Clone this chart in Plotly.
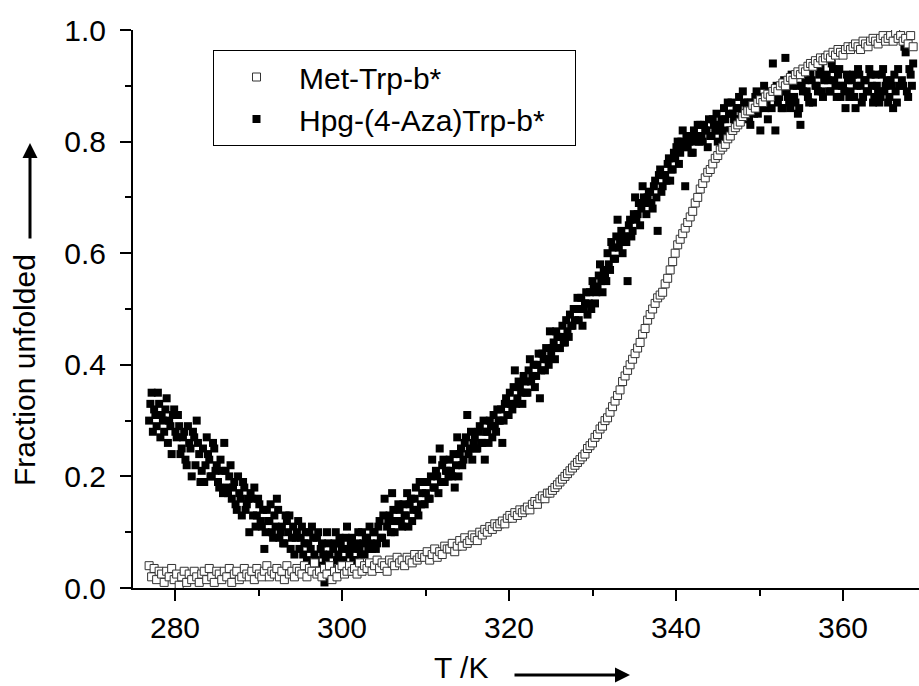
import numpy as np
import plotly.graph_objects as go

T_START_A = 276.9
T_START_B = 277.05
T_STEP = 0.3

# Hpg-(4-Aza)Trp-b*  (filled squares), scan A
hpg_frac_a = [
    0.30, 0.35, 0.32, 0.29, 0.33, 0.31, 0.28, 0.34, 0.30, 0.24,
    0.32, 0.27, 0.29, 0.25, 0.28, 0.22, 0.26, 0.20, 0.27, 0.30,
    0.24, 0.21, 0.19, 0.27, 0.23, 0.20, 0.25, 0.22, 0.18, 0.21,
    0.26, 0.18, 0.20, 0.16, 0.19, 0.14, 0.17, 0.13, 0.18, 0.15,
    0.10, 0.16, 0.18, 0.13, 0.15, 0.11, 0.07, 0.14, 0.12, 0.10,
    0.13, 0.16, 0.09, 0.11, 0.08, 0.12, 0.13, 0.09, 0.06, 0.10,
    0.07, 0.11, 0.08, 0.05, 0.10, 0.11, 0.06, 0.09, 0.04, 0.08,
    0.01, 0.10, 0.06, 0.03, 0.08, 0.05, 0.09, 0.07, 0.04, 0.11,
    0.06, 0.09, 0.05, 0.08, 0.07, 0.10, 0.06, 0.09, 0.11, 0.07,
    0.10, 0.08, 0.12, 0.09, 0.16, 0.11, 0.13, 0.17, 0.10, 0.12,
    0.14, 0.11, 0.13, 0.17, 0.15, 0.12, 0.16, 0.14, 0.19, 0.17,
    0.15, 0.19, 0.16, 0.23, 0.18, 0.20, 0.25, 0.22, 0.19, 0.21,
    0.23, 0.20, 0.18, 0.27, 0.24, 0.22, 0.26, 0.31, 0.25, 0.23,
    0.27, 0.25, 0.29, 0.26, 0.23, 0.28, 0.30, 0.27, 0.29, 0.32,
    0.30, 0.26, 0.33, 0.31, 0.35, 0.32, 0.39, 0.34, 0.36, 0.33,
    0.37, 0.35, 0.41, 0.38, 0.36, 0.40, 0.34, 0.42, 0.39, 0.41,
    0.46, 0.43, 0.41, 0.45, 0.43, 0.47, 0.44, 0.46, 0.49, 0.47,
    0.48, 0.52, 0.50, 0.47, 0.51, 0.49, 0.53, 0.55, 0.51, 0.54,
    0.58, 0.53, 0.56, 0.60, 0.57, 0.61, 0.59, 0.66, 0.62, 0.60,
    0.63, 0.55, 0.66, 0.64, 0.70, 0.67, 0.65, 0.72, 0.69, 0.70,
    0.71, 0.68, 0.73, 0.64, 0.75, 0.72, 0.74, 0.76, 0.73, 0.75,
    0.77, 0.80, 0.78, 0.82, 0.72, 0.79, 0.81, 0.78, 0.80, 0.83,
    0.83, 0.80, 0.82, 0.79, 0.81, 0.84, 0.82, 0.80, 0.83, 0.81,
    0.84, 0.87, 0.82, 0.85, 0.83, 0.86, 0.84, 0.89, 0.85, 0.87,
    0.83, 0.86, 0.88, 0.85, 0.82, 0.87, 0.86, 0.84, 0.88, 0.94,
    0.82, 0.87, 0.89, 0.86, 0.95, 0.88, 0.86, 0.90, 0.87, 0.85,
    0.83, 0.89, 0.91, 0.88, 0.92, 0.87, 0.90, 0.89, 0.93, 0.88,
    0.95, 0.91, 0.89, 0.93, 0.90, 0.92, 0.88, 0.90, 0.86, 0.91,
    0.89, 0.92, 0.86, 0.93, 0.90, 0.88, 0.91, 0.89, 0.92, 0.87,
    0.92, 0.89, 0.88, 0.93, 0.90, 0.87, 0.91, 0.86, 0.89, 0.93,
    0.99, 0.90, 0.96, 0.88, 0.92, 0.94,
]

# Hpg-(4-Aza)Trp-b*  (filled squares), scan B
hpg_frac_b = [
    0.33, 0.28, 0.31, 0.35, 0.27, 0.30, 0.32, 0.26, 0.29, 0.31,
    0.28, 0.31, 0.24, 0.27, 0.23, 0.29, 0.25, 0.28, 0.22, 0.26,
    0.19, 0.25, 0.22, 0.24, 0.20, 0.26, 0.21, 0.19, 0.23, 0.17,
    0.21, 0.17, 0.22, 0.18, 0.15, 0.20, 0.16, 0.19, 0.14, 0.16,
    0.17, 0.13, 0.11, 0.16, 0.12, 0.14, 0.10, 0.12, 0.15, 0.09,
    0.11, 0.14, 0.10, 0.08, 0.13, 0.10, 0.07, 0.11, 0.09, 0.12,
    0.09, 0.06, 0.10, 0.08, 0.07, 0.09, 0.05, 0.10, 0.07, 0.06,
    0.05, 0.08, 0.04, 0.07, 0.10, 0.06, 0.08, 0.05, 0.09, 0.07,
    0.08, 0.05, 0.07, 0.10, 0.06, 0.08, 0.09, 0.07, 0.08, 0.10,
    0.07, 0.11, 0.09, 0.13, 0.08, 0.12, 0.10, 0.14, 0.12, 0.15,
    0.12, 0.15, 0.13, 0.11, 0.16, 0.14, 0.18, 0.13, 0.15, 0.19,
    0.17, 0.16, 0.20, 0.18, 0.21, 0.17, 0.19, 0.23, 0.21, 0.20,
    0.21, 0.24, 0.22, 0.20, 0.25, 0.23, 0.27, 0.24, 0.28, 0.26,
    0.25, 0.28, 0.26, 0.30, 0.28, 0.26, 0.29, 0.31, 0.28, 0.30,
    0.32, 0.30, 0.34, 0.31, 0.33, 0.36, 0.33, 0.37, 0.35, 0.38,
    0.35, 0.39, 0.37, 0.40, 0.38, 0.42, 0.39, 0.41, 0.43, 0.40,
    0.42, 0.44, 0.46, 0.43, 0.45, 0.44, 0.48, 0.45, 0.47, 0.50,
    0.50, 0.48, 0.52, 0.50, 0.53, 0.51, 0.50, 0.54, 0.53, 0.56,
    0.55, 0.57, 0.55, 0.58, 0.62, 0.59, 0.63, 0.61, 0.64, 0.63,
    0.62, 0.65, 0.63, 0.67, 0.66, 0.69, 0.68, 0.70, 0.67, 0.71,
    0.69, 0.72, 0.70, 0.74, 0.71, 0.74, 0.73, 0.77, 0.75, 0.78,
    0.79, 0.76, 0.80, 0.79, 0.81, 0.80, 0.78, 0.82, 0.81, 0.80,
    0.81, 0.83, 0.82, 0.84, 0.81, 0.83, 0.85, 0.82, 0.84, 0.86,
    0.82, 0.85, 0.87, 0.84, 0.86, 0.88, 0.85, 0.87, 0.86, 0.84,
    0.87, 0.85, 0.89, 0.86, 0.88, 0.90, 0.87, 0.89, 0.86, 0.88,
    0.90, 0.88, 0.86, 0.91, 0.89, 0.87, 0.92, 0.88, 0.90, 0.86,
    0.90, 0.93, 0.89, 0.87, 0.91, 0.94, 0.90, 0.92, 0.89, 0.91,
    0.92, 0.89, 0.94, 0.91, 0.88, 0.93, 0.90, 0.89, 0.92, 0.88,
    0.91, 0.88, 0.90, 0.92, 0.87, 0.91, 0.89, 0.93, 0.90, 0.88,
    0.90, 0.87, 0.92, 0.89, 0.91, 0.88, 0.90, 0.92, 0.87, 0.90,
    0.91, 0.97, 0.89, 0.93, 0.90,
]

# Met-Trp-b*  (open squares), scan A grid
met_frac = [
    0.040, 0.020, 0.035, 0.015, 0.030, 0.025, 0.010, 0.030, 0.020, 0.035,
    0.015, 0.025, 0.005, 0.020, 0.030, 0.010, 0.025, 0.015, 0.030, 0.020,
    0.010, 0.025, 0.030, 0.015, 0.035, 0.020, 0.010, 0.030, 0.025, 0.015,
    0.030, 0.020, 0.035, 0.010, 0.025, 0.030, 0.015, 0.020, 0.035, 0.025,
    0.020, 0.030, 0.015, 0.035, 0.025, 0.020, 0.030, 0.040, 0.020, 0.030,
    0.025, 0.035, 0.020, 0.030, 0.015, 0.040, 0.025, 0.030, 0.020, 0.035,
    0.030, 0.025, 0.040, 0.020, 0.035, 0.030, 0.045, 0.025, 0.030, 0.020,
    0.035, 0.025, 0.040, 0.015, 0.030, 0.020, 0.035, 0.040, 0.025, 0.030,
    0.040, 0.030, 0.035, 0.025, 0.045, 0.030, 0.040, 0.035, 0.045, 0.030,
    0.040, 0.050, 0.035, 0.045, 0.040, 0.030, 0.050, 0.045, 0.040, 0.055,
    0.045, 0.050, 0.040, 0.055, 0.050, 0.045, 0.060, 0.050, 0.055, 0.060,
    0.055, 0.065, 0.050, 0.060, 0.070, 0.055, 0.065, 0.060, 0.075, 0.070,
    0.070, 0.080, 0.065, 0.075, 0.085, 0.075, 0.090, 0.080, 0.085, 0.095,
    0.090, 0.085, 0.100, 0.095, 0.105, 0.100, 0.110, 0.105, 0.115, 0.110,
    0.115, 0.120, 0.115, 0.125, 0.130, 0.125, 0.135, 0.130, 0.140, 0.135,
    0.140, 0.145, 0.140, 0.150, 0.155, 0.150, 0.160, 0.165, 0.160, 0.170,
    0.170, 0.175, 0.180, 0.185, 0.190, 0.195, 0.200, 0.205, 0.210, 0.215,
    0.220, 0.225, 0.230, 0.235, 0.240, 0.250, 0.255, 0.260, 0.270, 0.275,
    0.285, 0.290, 0.300, 0.305, 0.315, 0.325, 0.335, 0.345, 0.355, 0.370,
    0.380, 0.390, 0.400, 0.410, 0.420, 0.430, 0.440, 0.455, 0.465, 0.480,
    0.490, 0.500, 0.510, 0.520, 0.525, 0.530, 0.545, 0.555, 0.570, 0.585,
    0.600, 0.615, 0.625, 0.635, 0.645, 0.655, 0.665, 0.675, 0.690, 0.700,
    0.715, 0.725, 0.735, 0.745, 0.750, 0.760, 0.770, 0.775, 0.785, 0.790,
    0.795, 0.805, 0.810, 0.820, 0.825, 0.830, 0.835, 0.845, 0.850, 0.855,
    0.855, 0.865, 0.860, 0.870, 0.875, 0.870, 0.880, 0.885, 0.880, 0.890,
    0.895, 0.890, 0.900, 0.905, 0.900, 0.910, 0.915, 0.910, 0.920, 0.925,
    0.920, 0.930, 0.925, 0.935, 0.940, 0.935, 0.945, 0.940, 0.950, 0.945,
    0.950, 0.955, 0.950, 0.960, 0.955, 0.965, 0.960, 0.955, 0.965, 0.970,
    0.965, 0.970, 0.975, 0.970, 0.965, 0.980, 0.975, 0.970, 0.980, 0.985,
    0.980, 0.975, 0.985, 0.990, 0.980, 0.985, 0.990, 0.980, 0.995, 0.985,
    0.990, 0.980, 0.985, 0.975, 0.990, 0.970,
]

x_ticks = [280, 300, 320, 340, 360]
y_ticks = [0.0, 0.2, 0.4, 0.6, 0.8, 1.0]
y_tick_text = ["0.0", "0.2", "0.4", "0.6", "0.8", "1.0"]

temps_a = np.round(T_START_A + T_STEP * np.arange(len(hpg_frac_a)), 2)
temps_b = np.round(T_START_B + T_STEP * np.arange(len(hpg_frac_b)), 2)
temps_met = np.round(T_START_A + T_STEP * np.arange(len(met_frac)), 2)

hpg_x = np.concatenate([temps_a, temps_b])
hpg_y = np.concatenate([hpg_frac_a, hpg_frac_b])

FONT = "Liberation Sans, Arial, sans-serif"
FS = 30

fig = go.Figure()
fig.add_trace(go.Scatter(
    x=hpg_x, y=hpg_y, mode="markers", name="Hpg-(4-Aza)Trp-b*\u00a0\u00a0\u00a0",
    marker=dict(symbol="square", size=8, color="black",
                line=dict(color="black", width=0)),
))
fig.add_trace(go.Scatter(
    x=temps_met, y=met_frac, mode="markers", name="Met-Trp-b*",
    marker=dict(symbol="square", size=8, color="white",
                line=dict(color="#333333", width=1)),
))

W, H = 919, 686
ML, MR, MT, MB = 133, 0, 30, 98
pw = W - ML - MR
ph = H - MT - MB

def px2paper(px, py):
    return (px - ML) / pw, (H - MB - py) / ph

axis_common = dict(
    showline=True, linecolor="black", linewidth=2, mirror=False,
    ticks="outside", ticklen=11, tickwidth=1.5, tickcolor="black",
    showgrid=False, zeroline=False,
    tickfont=dict(family=FONT, size=FS, color="black"),
)

fig.update_xaxes(range=[274.97, 369.1], tickvals=x_ticks, ticklabelstandoff=1,
                 **axis_common,
                 minor=dict(ticks="outside", ticklen=6, tickwidth=1.5,
                            tickcolor="black", dtick=10, tick0=270, showgrid=False))
fig.update_yaxes(range=[0, 1.0], tickvals=y_ticks, ticktext=y_tick_text,
                 ticklabelstandoff=8, **axis_common,
                 minor=dict(ticks="outside", ticklen=6, tickwidth=1.5,
                            tickcolor="black", dtick=0.1, tick0=0, showgrid=False))

lx, ly = px2paper(213, 50)
fig.update_layout(
    width=W, height=H,
    margin=dict(l=ML, r=MR, t=MT, b=MB, pad=0),
    paper_bgcolor="white", plot_bgcolor="white",
    font=dict(family=FONT, size=FS, color="black"),
    showlegend=True,
    legend=dict(x=lx, y=ly, xanchor="left", yanchor="top",
                bgcolor="white", bordercolor="black", borderwidth=1,
                font=dict(family=FONT, size=FS, color="black"),
                traceorder="reversed", itemwidth=75),
)

# Axis titles with arrows
tx, ty = px2paper(461, 667)
fig.add_annotation(x=tx, y=ty, xref="paper", yref="paper", text="T /K",
                   showarrow=False, font=dict(family=FONT, size=FS, color="black"),
                   xanchor="center", yanchor="middle")
hx, hy = px2paper(630, 675)
fig.add_annotation(x=hx, y=hy, xref="paper", yref="paper", text="",
                   showarrow=True, ax=-117, ay=0, arrowhead=2, arrowsize=1,
                   arrowwidth=3, arrowcolor="black")

yx, yy = px2paper(24, 370)
fig.add_annotation(x=yx, y=yy, xref="paper", yref="paper", text="Fraction unfolded",
                   showarrow=False, textangle=-90,
                   font=dict(family=FONT, size=FS, color="black"),
                   xanchor="center", yanchor="middle")
vx, vy = px2paper(30, 143)
fig.add_annotation(x=vx, y=vy, xref="paper", yref="paper", text="",
                   showarrow=True, ax=0, ay=97, arrowhead=2, arrowsize=1,
                   arrowwidth=3, arrowcolor="black")

fig.write_html("out.html")
